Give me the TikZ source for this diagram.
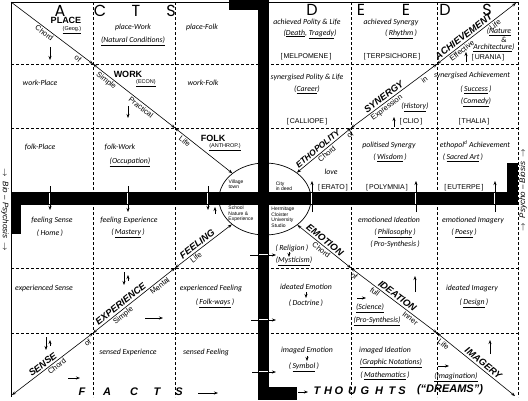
\documentclass[tikz,border=0pt]{standalone}
\usepackage{fontspec}
\setsansfont{Liberation Sans}
\newfontfamily\hand{Carlito}
\newfontfamily\headfont{Poppins}
\usetikzlibrary{shapes.geometric,arrows.meta}
\newcommand\sarrow[5]{\coordinate (#1s) at (#2,#3); \coordinate (#1e) at (#4,#5); \draw[onetip] (#1s) -- (#1e);}
\newcommand\vcross[4]{\coordinate (#1s) at (#2,#3); \coordinate (#1e) at (#2,#4); \draw[onetip] (#1s) -- (#1e);
  \draw[white, line width=1.8pt] (#2,193) -- (#2,204); \draw[line width=0.5pt] (#2,193) -- (#2,204);}
\newcommand\hcross[4]{\coordinate (#1s) at (#3,#2); \coordinate (#1e) at (#4,#2); \draw[onetip] (#1s) -- (#1e);
  \draw[white, line width=1.8pt] (259,#2) -- (268,#2); \draw[line width=0.5pt] (259,#2) -- (268,#2);}
\begin{document}
\begin{tikzpicture}[x=1pt,y=-1pt,
  gridline/.style={dash pattern=on 3pt off 2pt, line width=0.8pt},
  celltxt/.style={font=\hand\itshape\fontsize{7.8}{8.8}\selectfont, inner sep=0pt, align=center},
  musetxt/.style={font=\sffamily\fontsize{7}{7.5}\selectfont, inner sep=0pt},
  tagtxt/.style={font=\sffamily\fontsize{5.5}{6}\selectfont, inner sep=0pt},
  bigword/.style={font=\sffamily\bfseries\fontsize{9}{9}\selectfont, inner sep=0pt},
  hdrtxt/.style={font=\headfont\fontsize{16}{16}\selectfont, inner sep=0pt},
  ftrtxt/.style={font=\sffamily\bfseries\itshape\fontsize{11}{11}\selectfont, inner sep=0pt},
  sidetxt/.style={font=\sffamily\itshape\fontsize{8}{8}\selectfont, inner sep=0pt},
  dword/.style={font=\sffamily\bfseries\itshape\fontsize{9.5}{9.5}\selectfont, inner sep=0pt, sloped, above=2pt},
  sword/.style={font=\sffamily\fontsize{7.5}{7.5}\selectfont, inner sep=0pt, sloped, below=1.5pt},
  hubtxt/.style={font=\sffamily\fontsize{5}{5.5}\selectfont, inner sep=0pt, align=left},
  onetip/.style={-{Stealth[length=4pt,width=3pt]}, line width=0.6pt},
  twotip/.style={{Stealth[length=4pt,width=3pt]}-{Stealth[length=4pt,width=3pt]}, line width=0.6pt},
]
\useasboundingbox (0,0) rectangle (528,400);
\fill[white] (0,0) rectangle (528,400);

% frame and grid
\draw[line width=0.8pt] (11,397) -- (11,2) -- (518,2);
\draw[gridline] (518,2) -- (518,397);
\foreach \x in {93,175,351,437} \draw[gridline] (\x,2) -- (\x,397);
\foreach \y in {64,128,268,333} \draw[gridline] (11,\y) -- (518,\y);

% hub
\node[draw, ellipse, minimum width=92pt, minimum height=72pt, inner sep=0pt, line width=0.7pt] (hub) at (265,199) {};

% black cross bars
\fill (258,0) rectangle (269,400);
\fill (11,192) rectangle (518,205);
\fill (229,0) rectangle (269,10);
\fill (258,387) rectangle (297,400);
\fill (11,192) rectangle (21,234);
\fill (507,163) rectangle (518,205);

% hub texts
\node[hubtxt] (village) at (236,184) {Village\\town};
\node[hubtxt] (city) at (284,186) {City\\in deed};
\node[hubtxt] (school) at (241,214) {School\\Nature \&\\Experience};
\node[hubtxt] (hermit) at (283,217) {Hermitage\\Cloister\\University\\Studio};

% headers
\node[hdrtxt] (hA) at (60,11) {A};
\node[hdrtxt] (hC) at (100,11) {C};
\node[hdrtxt] (hT) at (136,11) {T};
\node[hdrtxt] (hS) at (171,11) {S};
\node[hdrtxt] (hD1) at (312,10) {D};
\node[hdrtxt] (hE1) at (361,10) {E};
\node[hdrtxt] (hE2) at (406,10) {E};
\node[hdrtxt] (hD2) at (445,10) {D};
\node[hdrtxt] (hS2) at (487,10) {S};

% footer
\foreach \l/\x [count=\i] in {F/82,A/107,C/134,T/157,S/179}
  \node[ftrtxt] (fa\i) at (\x,392) {\l};
\foreach \l/\x [count=\i] in {T/317,H/328,O/339,U/352,G/365,H/379,T/392,S/402}
  \node[ftrtxt] (fb\i) at (\x,391) {\l};
\node[ftrtxt] (dreams) at (450,390) {(“DREAMS”)};

% side texts
\node[sidetxt, rotate=-90] (bio) at (5,210) {$\rightarrow$\ \ Bio -- Psychosis\ \ $\rightarrow$};
\node[sidetxt, rotate=90] (psy) at (523,190) {$\rightarrow$\ \ Psycho -- Biosis\ \ $\rightarrow$};

% row 0
\node[bigword] (place) at (66,20) {PLACE};
\node[tagtxt] (geog) at (72,30) {\underline{(Geog.)}};
\node[celltxt] (t01a) at (133,27) {place-Work};
\node[celltxt] (t01b) at (133,41) {\underline{(Natural Conditions)}};
\node[celltxt] (t02a) at (202,27) {place-Folk};
\node[celltxt] (t03a) at (307,22) {achieved Polity \& Life};
\node[celltxt] (t03b) at (310,34) {(\underline{Death}, \underline{Tragedy})};
\node[musetxt] (t03c) at (306,57) {[\,MELPOMENE\,]};
\node[celltxt] (t04a) at (391,22) {achieved Synergy};
\node[celltxt] (t04b) at (401,34) {(\,\underline{Rhythm}\,)};
\node[musetxt] (t04c) at (392,57) {[\,TERPSICHORE\,]};
\node[celltxt] (t05b) at (499,32) {(\underline{Nature}};
\node[celltxt] (t05c) at (504,40) {\&};
\node[celltxt] (t05d) at (494,48) {\underline{Architecture})};
\node[musetxt] (t05e) at (488,58) {[\,URANIA\,]};

% row 1
\node[celltxt] (t10a) at (40,83) {work-Place};
\node[bigword] (work) at (128,74) {WORK};
\node[tagtxt] (econ) at (146,83) {\underline{(ECON)}};
\node[celltxt] (t12a) at (203,83) {work-Folk};
\node[celltxt] (t13a) at (307,77) {synergised Polity \& Life};
\node[celltxt] (t13b) at (307,90) {(\underline{Career})};
\node[musetxt] (t13c) at (307,122) {[\,CALLIOPE\,]};
\node[celltxt] (t14b) at (415,107) {(\underline{History})};
\node[musetxt] (t14c) at (411,122) {[\,CLIO\,]};
\node[celltxt] (t15a) at (472,75) {synergised Achievement};
\node[celltxt] (t15b) at (476,90) {(\,\underline{Success}\,)};
\node[celltxt] (t15c) at (476,102) {(\underline{Comedy})};
\node[musetxt] (t15d) at (474,122) {[\,THALIA\,]};

% row 2
\node[celltxt] (t20a) at (40,147) {folk-Place};
\node[celltxt] (t21a) at (120,147) {folk-Work};
\node[celltxt] (t21b) at (130,162) {\underline{(Occupation)}};
\node[bigword] (folk) at (213,138) {FOLK};
\node[tagtxt] (anthrop) at (225,147) {\underline{(ANTHROP.)}};
\node[celltxt] (t23a) at (331,172) {love};
\node[musetxt] (t23b) at (333,188) {[\,ERATO\,]};
\node[celltxt] (t24a) at (389,145) {politised Synergy};
\node[celltxt] (t24b) at (390,158) {(\,\underline{Wisdom}\,)};
\node[musetxt] (t24c) at (387,188) {[\,POLYMNIA\,]};
\node[celltxt] (t25a) at (475,145) {ethopol\textsuperscript{d} Achievement};
\node[celltxt] (t25b) at (463,158) {(\,\underline{Sacred Art}\,)};
\node[musetxt] (t25c) at (464,188) {[\,EUTERPE\,]};

% row 3
\node[celltxt] (t30a) at (52,220) {feeling Sense};
\node[celltxt] (t30b) at (50,233) {(\,Home\,)};
\node[celltxt] (t31a) at (129,220) {feeling Experience};
\node[celltxt] (t31b) at (128,233) {(\,\underline{Mastery}\,)};
\node[celltxt] (t33a) at (292,248) {(\,Religion\,)};
\node[celltxt] (t33b) at (294,261) {(\underline{Mysticism})};
\node[celltxt] (t34a) at (389,220) {emotioned Ideation};
\node[celltxt] (t34b) at (395,233) {(\,\underline{Philosophy}\,)};
\node[celltxt] (t34c) at (395,244) {(\,Pro-Synthesis\,)};
\node[celltxt] (t35a) at (473,220) {emotioned Imagery};
\node[celltxt] (t35b) at (464,233) {(\,\underline{Poesy}\,)};

% row 4
\node[celltxt] (t40a) at (44,288) {experienced Sense};
\node[celltxt] (t42a) at (211,288) {experienced Feeling};
\node[celltxt] (t42b) at (215,303) {(\,\underline{Folk-ways}\,)};
\node[celltxt] (t43a) at (306,287) {ideated Emotion};
\node[celltxt] (t43b) at (306,303) {(\,Doctrine\,)};
\node[celltxt] (t44a) at (370,308) {\underline{(Science)}};
\node[celltxt] (t44b) at (377,321) {\underline{(Pro-Synthesis)}};
\node[celltxt] (t45a) at (472,288) {ideated Imagery};
\node[celltxt] (t45b) at (474,303) {(\,\underline{Design}\,)};

% row 5
\node[celltxt] (t51a) at (128,352) {sensed Experience};
\node[celltxt] (t52a) at (206,352) {sensed Feeling};
\node[celltxt] (t53a) at (307,350) {imaged Emotion};
\node[celltxt] (t53b) at (304,367) {(\,\underline{Symbol}\,)};
\node[celltxt] (t54a) at (385,350) {imaged Ideation};
\node[celltxt] (t54b) at (391,363) {\underline{(Graphic Notations)}};
\node[celltxt] (t54c) at (385,376) {(\,\underline{Mathematics}\,)};
\node[celltxt] (t55a) at (456,377) {\underline{(Imagination)}};

% diagonal corner points
\coordinate (nw0) at (11,2);   \coordinate (nw1) at (93,64);   \coordinate (nw2) at (175,128);
\coordinate (ne1) at (351,128); \coordinate (ne2) at (437,64);  \coordinate (ne3) at (516,3);
\coordinate (sw1) at (175,268); \coordinate (sw2) at (93,333);  \coordinate (sw3) at (12,395);
\coordinate (se1) at (351,268); \coordinate (se2) at (437,333); \coordinate (se3) at (515,396);

% NW diagonal
\draw[onetip] (nw0) -- node[sword, pos=.44] (lchord1) {Chord} node[sword, pos=.85] (lof1) {of} (nw1);
\draw[twotip] (nw1) -- node[sword, pos=.2] (lsimple1) {Simple} node[sword, pos=.62] (lprac) {Practical} (nw2);
\draw[twotip] (nw2) -- node[sword, pos=.22] (llife1) {Life} (hub);
% NE diagonal
\draw[twotip] (hub) -- node[dword, pos=.45, font=\sffamily\bfseries\itshape\fontsize{8.5}{8.5}\selectfont] (ethop) {ETHOPOLITY} node[sword, pos=.5] (lchord2) {Chord} node[sword, pos=.93] (lof2) {of} (ne1);
\draw[twotip] (ne1) -- node[dword, pos=.42] (syn) {SYNERGY} node[sword, pos=.38] (lexp) {Expression} node[sword, pos=.82] (lin) {in} (ne2);
\draw[twotip] (ne2) -- node[dword, pos=.38] (ach) {ACHIEVEMENT} node[sword, pos=.28] (leff) {Effective} node[sword, pos=.7] (llife2) {Life} (ne3);
% SW diagonal
\draw[twotip] (sw3) -- node[dword, pos=.42] (sense) {SENSE} node[sword, pos=.52] (lchord3) {Chord} node[sword, pos=.9] (lof3) {of} (sw2);
\draw[twotip] (sw2) -- node[dword, pos=.38] (exper) {EXPERIENCE} node[sword, pos=.33] (lsimple2) {Simple} node[sword, pos=.78] (lmental) {Mental} (sw1);
\draw[twotip] (sw1) -- node[dword, pos=.45] (feel) {FEELING} node[sword, pos=.32] (llife3) {Life} (hub);
% SE diagonal
\draw[twotip] (hub) -- node[dword, pos=.45] (emot) {EMOTION} node[sword, pos=.5] (lchord4) {Chord} (se1);
\draw[twotip] (se1) -- node[sword, pos=.07] (lof4) {of} node[dword, pos=.5] (idea) {IDEATION} node[sword, pos=.31] (lfull) {full} node[sword, pos=.72] (linner) {Inner} (se2);
\draw[twotip] (se2) -- node[sword, pos=.12] (llife4) {Life} node[dword, pos=.55] (imag) {IMAGERY} (se3);

% arrows crossing the bars
\vcross{va}{50}{186}{210}
\vcross{vb}{128}{186}{212}
\vcross{vc}{208}{186}{210}
\vcross{vd}{312}{212}{181}
\vcross{ve}{416}{212}{181}
\vcross{vf}{495}{212}{181}
\hcross{ha}{255}{250}{276}
\hcross{hb}{320}{251}{276}
\hcross{hc}{372}{252}{276}

% small arrows
\sarrow{sa}{50}{47}{50}{60}
\sarrow{sb}{128}{106}{128}{118}
\sarrow{sc}{466}{62}{466}{52}
\sarrow{sd}{394}{127}{394}{117}
\sarrow{se}{124}{272}{124}{285}
\sarrow{sf}{128}{281}{128}{275}
\sarrow{sg}{46}{337}{46}{350}
\sarrow{sh}{50}{346}{50}{340}
\sarrow{si}{215}{214}{215}{207}
\sarrow{sj}{68}{378}{80}{378}
\sarrow{sk}{145}{318}{163}{318}
\sarrow{sl}{198}{393}{218}{393}
\sarrow{sm}{298}{392}{308}{392}
\sarrow{sn}{306}{292}{306}{298}
\sarrow{so}{307}{356}{307}{361}
\sarrow{sp}{289}{252}{289}{257}
\sarrow{sq}{415}{292}{415}{276}
\sarrow{sr}{490}{354}{490}{340}
\sarrow{ss}{357}{298}{366}{298}
\sarrow{st}{438}{366}{449}{366}
\end{tikzpicture}
\end{document}
